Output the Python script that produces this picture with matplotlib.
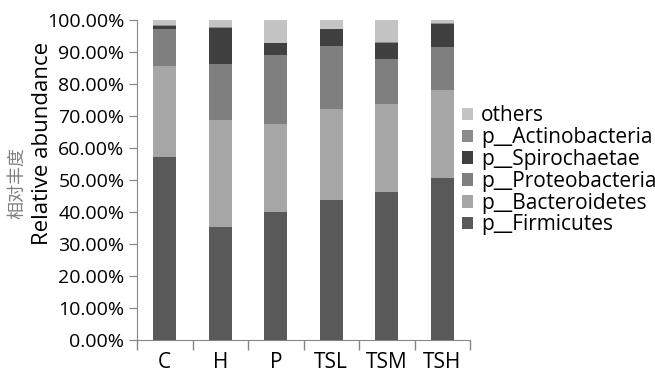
import numpy as np
import matplotlib.pyplot as plt
from matplotlib.ticker import PercentFormatter

plt.rcParams['font.family'] = ['Open Sans', 'Noto Sans CJK SC', 'DejaVu Sans']

groups = ['C', 'H', 'P', 'TSL', 'TSM', 'TSH']
# stacked from the bottom up, values in percent
firmicutes = [57.3, 35.4, 40.1, 43.6, 46.3, 50.5]
bacteroidetes = [28.4, 33.3, 27.4, 28.5, 27.4, 27.6]
proteobacteria = [11.5, 17.4, 21.6, 19.8, 14.0, 13.6]
spirochaetae = [1.0, 11.4, 3.6, 5.2, 5.0, 7.1]
actinobacteria = [0.2, 0.2, 0.1, 0.2, 0.5, 0.2]
others = [1.6, 2.3, 7.2, 2.7, 6.8, 1.0]

series = [
    ('p__Firmicutes', firmicutes, '#595959'),
    ('p__Bacteroidetes', bacteroidetes, '#a6a6a6'),
    ('p__Proteobacteria', proteobacteria, '#7f7f7f'),
    ('p__Spirochaetae', spirochaetae, '#404040'),
    ('p__Actinobacteria', actinobacteria, '#8c8c8c'),
    ('others', others, '#c4c4c4'),
]

fig = plt.figure(figsize=(6.55, 3.79), dpi=100)
ax = fig.add_axes([137 / 655, 1 - 340 / 379, 333 / 655, 320 / 379])

x = np.arange(len(groups))
bottom = np.zeros(len(groups))
handles = []
for name, vals, col in series:
    b = ax.bar(x, vals, width=0.41, bottom=bottom, color=col, label=name)
    handles.append(b)
    bottom += np.array(vals)

ax.set_xlim(-0.5, len(groups) - 0.5)
ax.set_ylim(0, 100)
ax.set_yticks(np.arange(0, 101, 10))
ax.yaxis.set_major_formatter(PercentFormatter(xmax=100, decimals=2))
ax.set_xticks(x)
ax.set_xticklabels(groups)
ax.set_xticks(np.arange(-0.5, len(groups), 1), minor=True)
ax.tick_params(axis='x', which='major', length=0, labelsize=15, pad=9)
ax.tick_params(axis='x', which='minor', length=7, color='#868686', width=1)
ax.tick_params(axis='y', length=6, color='#868686', labelsize=14, pad=3)

for s in ['top', 'right']:
    ax.spines[s].set_visible(False)
for s in ['left', 'bottom']:
    ax.spines[s].set_color('#868686')

ax.legend(handles[::-1], [h.get_label() for h in handles[::-1]],
          loc='center left', bbox_to_anchor=(0.976, 0.53), frameon=False,
          fontsize=15, handlelength=0.55, handleheight=0.55,
          handletextpad=0.35, labelspacing=0.04, borderaxespad=0,
          borderpad=0)

fig.text(43 / 655, 1 - 143 / 379, 'Relative abundance', rotation=90,
         ha='center', va='center', fontsize=16)
fig.text(17 / 655, 1 - 183 / 379, '相对丰度', rotation=90, ha='center',
         va='center', fontsize=13, color='#808080',
         family=['Noto Sans CJK SC', 'DejaVu Sans'])

fig.savefig('out.png', dpi=100)
